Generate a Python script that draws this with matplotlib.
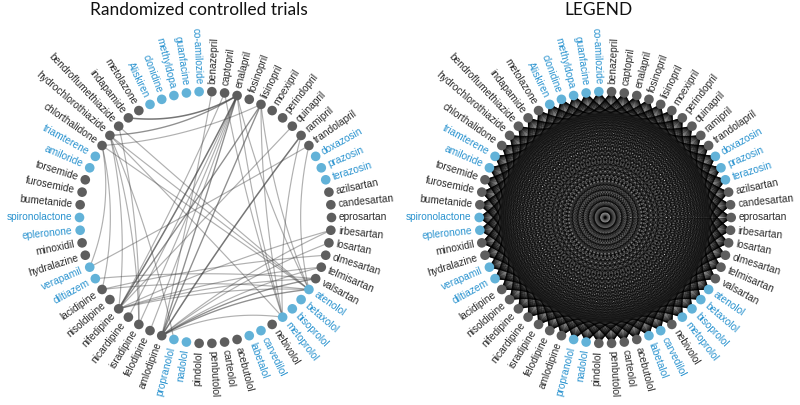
import itertools

import matplotlib
matplotlib.use("Agg")
import matplotlib.pyplot as plt
from matplotlib.collections import LineCollection
import numpy as np

# nodes clockwise from the top
DRUGS = [
    "co-amilozide", "benazepril", "captopril", "enalapril", "fosinopril", "lisinopril",
    "moexipril", "perindopril", "quinapril", "ramipril", "trandolapril",
    "doxazosin", "prazosin", "terazosin",
    "azilsartan", "candesartan", "eprosartan", "irbesartan", "losartan", "olmesartan",
    "telmisartan", "valsartan",
    "atenolol", "betaxolol", "bisoprolol", "metoprolol", "nebivolol", "carvedilol",
    "labetalol", "acebutolol", "carteolol", "penbutolol", "pindolol", "nadolol",
    "propranolol",
    "amlodipine", "felodipine", "isradipine", "nicardipine", "nifedipine", "nisoldipine",
    "lacidipine", "diltiazem", "verapamil",
    "hydralazine", "minoxidil", "epleronone", "spironolactone",
    "bumetanide", "furosemide", "torsemide", "amiloride", "triamterene",
    "chlorthalidone", "hydrochlorothiazide", "bendroflumethiazide", "indapamide",
    "metolazone", "Aliskiren", "clonidine", "methyldopa", "guanfacine",
]
BLUE_DRUGS = [
    "co-amilozide", "doxazosin", "prazosin", "terazosin", "atenolol", "betaxolol",
    "bisoprolol", "metoprolol", "carvedilol", "labetalol", "nadolol", "propranolol",
    "diltiazem", "verapamil", "epleronone", "spironolactone", "amiloride", "triamterene",
    "Aliskiren", "clonidine", "methyldopa", "guanfacine",
]

# head-to-head trials (pair, number of trials)
RCT_EDGES = [
    ("indapamide", "enalapril"), ("hydrochlorothiazide", "enalapril"),
    ("chlorthalidone", "lisinopril"), ("bendroflumethiazide", "atenolol"),
    ("hydrochlorothiazide", "atenolol"), ("chlorthalidone", "atenolol"),
    ("hydrochlorothiazide", "metoprolol"), ("chlorthalidone", "verapamil"),
    ("chlorthalidone", "lacidipine"), ("hydrochlorothiazide", "nifedipine"),
    ("bendroflumethiazide", "isradipine"), ("hydrochlorothiazide", "isradipine"),
    ("hydrochlorothiazide", "propranolol"),
    ("enalapril", "nifedipine"), ("enalapril", "nicardipine"), ("enalapril", "amlodipine"),
    ("enalapril", "felodipine"), ("lisinopril", "amlodipine"), ("lisinopril", "nifedipine"),
    ("ramipril", "amlodipine"), ("captopril", "nifedipine"), ("benazepril", "amlodipine"),
    ("captopril", "metoprolol"), ("irbesartan", "amlodipine"), ("losartan", "amlodipine"),
    ("irbesartan", "nifedipine"), ("valsartan", "amlodipine"), ("telmisartan", "amlodipine"),
    ("atenolol", "amlodipine"), ("atenolol", "nifedipine"), ("atenolol", "lacidipine"),
    ("valsartan", "diltiazem"), ("ramipril", "metoprolol"), ("trandolapril", "atenolol"),
    ("trandolapril", "verapamil"), ("enalapril", "atenolol"), ("enalapril", "metoprolol"),
    ("lisinopril", "metoprolol"), ("amlodipine", "metoprolol"), ("nifedipine", "valsartan"),
    ("olmesartan", "lacidipine"), ("lisinopril", "atenolol"), ("enalapril", "isradipine"),
    ("quinapril", "nifedipine"), ("telmisartan", "nifedipine"),
]
RCT_WEIGHTS = [3, 2, 1, 1, 1, 1, 1, 1, 1, 1, 1, 1, 1,
               3, 1, 2, 1, 2, 2, 3, 1, 1, 1, 1, 1, 1, 2, 1, 2, 1, 1, 1, 1, 1,
               1, 1, 1, 1, 1, 1, 1, 1, 1, 1, 1]

TITLES = ["Randomized controlled trials", "LEGEND"]

GRAY_NODE, BLUE_NODE = "#5e5e5e", "#62b2d8"
GRAY_TEXT, BLUE_TEXT = "#2b2b2b", "#2a93cf"


def node_xy():
    step = 360 / len(DRUGS)
    ang = 90 + step / 2 - np.arange(len(DRUGS)) * step
    rad = np.deg2rad(ang)
    return ang, np.cos(rad), np.sin(rad)


def bezier(p0, p2, bend, n=30):
    """Quadratic curve pulled toward the centre."""
    c = (p0 + p2) / 2 * bend
    t = np.linspace(0, 1, n)[:, None]
    return (1 - t) ** 2 * p0 + 2 * (1 - t) * t * c + t ** 2 * p2


def draw_panel(ax, edges, weights, edge_color, alpha, lw, bend, title):
    ang, xs, ys = node_xy()
    idx = {d: i for i, d in enumerate(DRUGS)}
    segs = []
    for a, b in edges:
        p0 = np.array([xs[idx[a]], ys[idx[a]]])
        p2 = np.array([xs[idx[b]], ys[idx[b]]])
        segs.append(bezier(p0, p2, bend))
    lws = [lw * (0.85 + 0.15 * w) for w in weights]
    alphas = [min(1, alpha * w ** 0.5) for w in weights]
    colors = [matplotlib.colors.to_rgba(edge_color, a) for a in alphas]
    ax.add_collection(LineCollection(segs, colors=colors, linewidths=lws, zorder=1))

    blue = [d in BLUE_DRUGS for d in DRUGS]
    ax.scatter(xs, ys, s=48, c=[BLUE_NODE if b else GRAY_NODE for b in blue],
               linewidths=0, zorder=3)
    for a, x, y, d, b in zip(ang, xs, ys, DRUGS, blue):
        a = (a + 180) % 360 - 180
        if -90 <= a <= 90:
            rot, ha = a, "left"
        else:
            rot, ha = a - 180, "right"
        ax.text(x * 1.06, y * 1.06, d, rotation=rot, rotation_mode="anchor",
                ha=ha, va="center", fontsize=7.3, family="Liberation Sans",
                color=BLUE_TEXT if b else GRAY_TEXT)
    ax.text(-0.052, 1.645, title, ha="center", va="center", fontsize=12.5,
            family="Lato", color="#111111")
    ax.set_axis_off()


def main():
    fig = plt.figure(figsize=(8, 4.05), dpi=100)
    ax1 = fig.add_axes([0, 0, 0.5, 1])
    ax1.set_xlim(-205.5 / 126, 194.5 / 126)
    ax1.set_ylim(-187.5 / 126, 217.5 / 126)
    ax2 = fig.add_axes([0.5, 0, 0.5, 1])
    ax2.set_xlim(-205.2 / 126, 194.8 / 126)
    ax2.set_ylim(-187.5 / 126, 217.5 / 126)

    draw_panel(ax1, RCT_EDGES, RCT_WEIGHTS, "#444444", 0.42, 0.85, 0.84, TITLES[0])

    all_pairs = list(itertools.combinations(DRUGS, 2))
    draw_panel(ax2, all_pairs, [1] * len(all_pairs), "black", 0.32, 0.6, 0.72, TITLES[1])

    fig.savefig("out.png", dpi=100)
    plt.close(fig)


if __name__ == "__main__":
    main()
